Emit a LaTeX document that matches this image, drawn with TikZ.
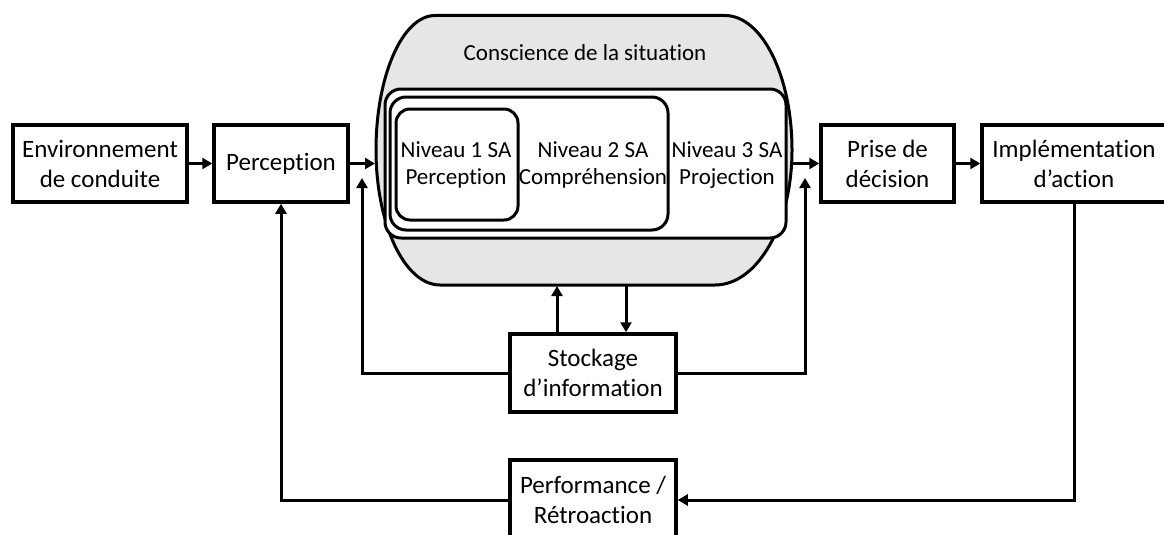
\documentclass[tikz,border=0pt]{standalone}
\usepackage{fontspec}
\setmainfont{Carlito}[Ligatures=NoCommon]
\usetikzlibrary{arrows.meta}
\definecolor{sagray}{RGB}{231,230,230}

\begin{document}
\begin{tikzpicture}[x=1pt, y=-1pt, line width=3pt, >={Triangle[length=10pt, width=11pt]},
	box/.style={draw, fill=white, line width=3.5pt, align=center, inner sep=0pt, font=\fontsize{25}{30}\selectfont},
	level/.style={draw, fill=white, line width=3pt, rounded corners=16pt},
	lvtext/.style={align=center, inner sep=0pt, font=\fontsize{23}{26.5}\selectfont}]
	\useasboundingbox (0, 0) rectangle (1164, 535);
	% situation awareness
	\draw[fill=sagray] (435, 15.5) -- (725, 15.5) .. controls (762, 15.5) and (792, 76) .. (792, 150)
		.. controls (792, 224.5) and (757.5, 285) .. (715, 285) -- (440, 285)
		.. controls (404.7, 285) and (376, 224.5) .. (376, 150)
		.. controls (376, 76) and (402.4, 15.5) .. (435, 15.5) -- cycle;
	\node[inner sep=0pt, font=\fontsize{23}{28}\selectfont] (sa) at (585, 53) {Conscience de la situation};
	\draw[level] (385, 89) rectangle (786, 238);
	\draw[level] (390, 97) rectangle (668, 230);
	\draw[level, rounded corners=14pt] (396, 109) rectangle (518, 220);
	\node[lvtext] (l1) at (456, 165) {Niveau 1 SA\\Perception};
	\node[lvtext] (l2) at (593, 165) {Niveau 2 SA\\Compréhension};
	\node[lvtext] (l3) at (727, 165) {Niveau 3 SA\\Projection};
	% boxes
	\node[box, minimum width=174pt, minimum height=77pt] (env) at (100, 163.5) {Environnement\\de conduite};
	\node[box, minimum width=134pt, minimum height=77pt] (perc) at (281, 163.5) {Perception};
	\node[box, minimum width=133pt, minimum height=77pt] (prise) at (887.5, 163.5) {Prise de\\décision};
	\node[box, minimum width=184pt, minimum height=77pt] (impl) at (1074, 163.5) {Implémentation\\d’action};
	\node[box, minimum width=166pt, minimum height=78pt] (stock) at (593, 373) {Stockage\\d’information};
	\node[box, minimum width=166pt, minimum height=80pt] (perf) at (593, 500) {Performance /\\Rétroaction};
	\coordinate (sa-w) at (375, 163.5);
	\coordinate (sa-e) at (793, 163.5);
	\coordinate (in-l) at (362, 178);
	\coordinate (in-r) at (805, 178);
	\coordinate (sa-up) at (557, 286);
	\coordinate (sa-dn) at (626, 286);
	% arrows
	\draw[->] (env) -- (perc);
	\draw[->] (perc) -- (sa-w);
	\draw[->] (sa-e) -- (prise);
	\draw[->] (prise) -- (impl);
	\draw[->] (impl) |- (perf);
	\draw[->] (perf) -| (perc);
	\draw[->] (stock) -| (in-l);
	\draw[->] (stock) -| (in-r);
	\draw[->] (sa-up |- stock.north) -- (sa-up);
	\draw[->] (sa-dn) -- (sa-dn |- stock.north);
\end{tikzpicture}
\end{document}
